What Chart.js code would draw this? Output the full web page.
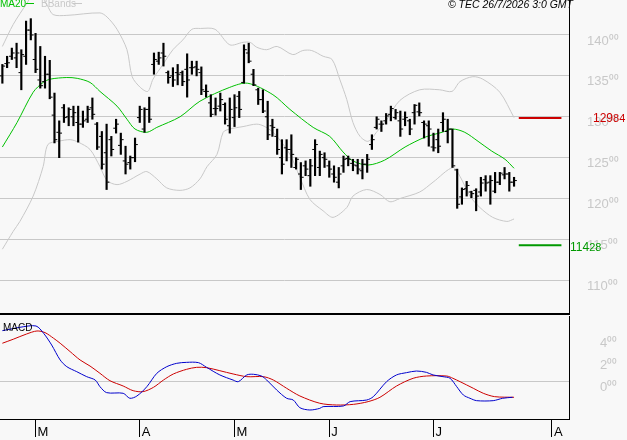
<!DOCTYPE html>
<html>
<head>
<meta charset="utf-8">
<script src="https://cdn.jsdelivr.net/npm/chart.js@4.4.1/dist/chart.umd.min.js"></script>
<style>
  html, body { margin: 0; padding: 0; background: #f8f8f8; }
  #wrap { position: relative; width: 627px; height: 440px; overflow: hidden; font-family: 'Liberation Sans', Arial, sans-serif; }
  #main { position: absolute; left: 0; top: 0; }
  #macd { position: absolute; left: 0; top: 316px; }
  .lbl { position: absolute; white-space: nowrap; line-height: 1; }
  .dash { position: absolute; height: 0; border-top: 1.5px solid; }
</style>
</head>
<body>
<div id="wrap">
  <canvas id="main" width="627" height="316"></canvas>
  <canvas id="macd" width="627" height="124"></canvas>

  <div class="lbl" style="left:0;top:-1px;font-size:10px;color:#00c000">MA20</div>
  <div class="dash" style="left:26px;top:3px;width:8px;border-color:#00c000"></div>
  <div class="lbl" style="left:41px;top:-1px;font-size:10px;color:#c8c8c8">BBands</div>
  <div class="dash" style="left:73px;top:3px;width:9px;border-color:#c8c8c8"></div>
  <div class="lbl" style="right:54px;top:-1px;font-size:10.5px;font-style:italic;color:#000">&copy; TEC 26/7/2026 3:0 GMT</div>

  <div class="lbl" style="left:593px;top:112px;font-size:12px;color:#cc0000">129<span style="font-size:11px">84</span></div>
  <div class="lbl" style="left:570px;top:241px;font-size:12px;color:#009900">114<span style="font-size:11px">28</span></div>

  <div class="lbl" style="left:3px;top:323px;font-size:10px;color:#000">MACD</div>
</div>
<script>
// daily bars, index 0 = first session shown
const opens = [135.0,136.5,137.4,137.2,135.4,137.4,140.6,137.0,134.5,134.3,
  135.2,130.2,128.1,131.1,130.0,130.0,129.3,129.1,129.7,131.1,
  129.1,127.6,125.6,127.2,128.6,126.5,124.6,124.4,125.0,129.9,
  128.5,130.9,136.4,136.8,137.8,135.4,135.0,135.4,135.4,135.8,
  136.0,136.1,135.4,133.1,131.7,131.0,131.3,131.5,128.9,129.9,
  132.5,134.2,137.8,135.2,133.3,132.1,130.0,128.9,127.6,125.0,
  126.2,126.0,123.8,123.0,124.0,122.8,126.0,123.8,125.0,124.0,
  123.0,122.0,124.0,124.9,124.3,124.0,123.4,124.2,126.6,128.7,
  129.1,129.5,130.3,129.9,129.5,129.7,129.5,130.5,130.6,129.3,
  128.9,126.3,127.2,129.3,128.2,128.5,123.5,120.2,121.2,120.8,
  121.0,120.8,122.3,122.0,120.9,122.0,122.9,123.0,122.0];
const highs = [136.4,137.4,138.4,139.0,138.2,141.7,142.0,140.2,138.6,137.4,
  136.9,132.9,129.5,131.5,131.1,131.3,131.3,130.7,131.3,132.3,
  129.3,128.2,129.1,127.6,129.7,128.0,126.4,125.2,127.4,131.3,
  131.1,132.4,137.8,137.9,139.0,135.6,136.0,136.4,135.6,137.7,
  136.8,136.8,136.1,133.9,132.7,132.3,132.9,131.7,132.3,132.7,
  133.1,138.8,139.0,135.8,133.5,133.3,131.9,129.7,128.5,127.2,
  127.2,127.8,125.0,124.4,124.6,124.8,127.2,125.8,125.6,124.6,
  124.0,123.8,125.2,125.2,124.8,124.8,124.8,125.4,127.8,130.0,
  129.5,130.4,131.3,130.9,130.7,130.6,129.7,131.5,131.7,129.5,
  129.5,128.0,128.5,130.5,129.7,128.5,123.6,121.3,122.1,120.9,
  121.2,122.6,122.8,122.8,123.2,123.2,123.8,123.2,122.6];
const lows = [134.1,136.0,137.0,136.0,133.3,136.4,139.4,135.4,133.5,133.5,
  132.2,126.8,125.0,129.3,128.9,128.9,126.9,128.7,129.3,129.7,
  126.0,123.6,121.1,125.2,128.0,125.4,123.0,123.6,124.5,129.3,
  128.1,129.3,135.2,136.4,136.2,134.1,133.7,133.9,133.8,132.4,
  135.2,135.0,132.7,132.4,130.0,130.2,130.7,129.1,128.0,128.8,
  129.9,134.1,136.6,133.8,131.5,130.5,127.2,127.6,125.4,123.0,
  124.6,123.8,123.6,121.1,122.8,121.5,122.8,122.8,123.8,122.6,
  122.0,121.3,123.2,124.0,123.4,123.0,122.4,123.2,126.0,128.5,
  128.2,129.1,129.5,129.7,127.6,128.9,127.8,129.1,130.1,127.4,
  126.4,125.8,125.6,128.2,126.8,123.8,118.8,119.3,120.3,120.1,
  118.5,120.3,120.9,119.3,120.7,121.7,122.4,120.9,121.5];
const closes = [136.2,136.6,137.8,137.8,137.6,140.6,140.0,135.8,133.8,135.2,
  132.4,127.2,128.0,129.9,130.9,130.5,129.1,129.5,130.9,130.3,
  126.3,124.2,122.0,126.0,129.1,127.2,124.2,125.0,126.6,130.9,
  130.9,129.7,137.0,137.2,137.4,134.8,134.5,135.2,134.3,134.5,
  136.0,135.8,133.3,133.1,130.3,131.0,132.1,129.7,130.9,131.1,
  130.9,138.2,136.8,133.9,132.1,130.7,127.8,128.7,126.0,124.2,
  126.0,125.4,124.8,122.6,123.6,124.0,126.6,125.4,124.8,123.6,
  122.6,123.0,124.8,124.8,124.1,123.6,124.2,124.8,127.2,129.7,
  129.1,130.1,131.0,130.5,128.5,129.9,128.5,131.4,130.5,129.1,
  128.5,126.2,126.4,129.7,128.5,124.0,119.3,121.1,121.6,120.6,
  120.3,121.9,121.9,122.2,122.0,123.1,123.0,122.0,122.2];

// indicator lines: [bar index, value]
const ma20 = [[0,126.3],[3.1,129.3],[6.5,133.0],[8.6,134.2],[10.1,134.6],[13.6,134.8],[15.8,134.7],
  [18.5,134.2],[20.6,133.1],[24.2,131.3],[26.3,129.7],[28.0,128.5],[30.5,128.1],[32.6,128.7],
  [37.5,130.0],[41.7,131.9],[48.0,133.6],[51.8,134.1],[57.1,132.7],[60.7,130.9],[65.6,128.7],
  [69.1,127.6],[71.9,125.7],[74.0,124.6],[77.2,124.1],[80.7,124.7],[85.0,126.3],[89.2,127.5],
  [92.8,128.1],[95.1,128.5],[97.6,128.1],[100.4,127.0],[103.3,125.8],[106.1,124.8],[108,123.7]];
const bandUpper = [[0,138.6],[2.3,141.3],[5.2,143.9],[7.2,145.5],[9.4,143.7],[10.7,142.5],[13.6,142.4],
  [20.6,142.7],[22.1,142.2],[24.2,140.7],[26.3,138.2],[27.4,134.9],[29.1,133.6],[30.7,133.1],
  [31.8,134.6],[33.9,136.4],[36.0,138.2],[38.1,139.4],[40.0,140.7],[41.8,140.8],[44.9,140.7],
  [48.0,138.8],[50.8,139.1],[52.3,139.1],[53.7,138.5],[55.8,138.2],[58.0,138.6],[61.3,137.6],
  [63.4,138.1],[65.3,138.1],[67.7,137.4],[69.6,137.0],[71.2,134.6],[72.7,132.1],[74.0,129.3],
  [75.5,127.6],[77.2,127.0],[79.1,128.2],[81.2,129.7],[83.9,132.0],[88.1,133.3],[92.3,133.3],
  [94.9,133.1],[96.6,134.3],[99.3,134.9],[101.4,134.6],[105.0,133.0],[108,129.9]];
const bandLower = [[0,113.8],[2.3,116.0],[3.7,117.2],[6.5,120.3],[8.6,123.9],[9.6,126.6],[11.8,127.0],
  [14.3,127.2],[16.0,126.9],[18.5,126.0],[20.6,123.9],[22.1,122.2],[24.2,121.7],[26.3,122.1],
  [29.1,123.0],[30.5,123.3],[32.6,122.4],[34.7,121.3],[37.5,121.0],[39.6,121.3],[41.7,122.4],
  [43.2,123.9],[45.3,125.4],[46.6,128.1],[48.0,128.5],[50.8,128.8],[53.7,129.1],[55.4,128.8],
  [57.5,127.9],[60.7,125.4],[62.8,122.6],[64.9,119.9],[67.7,118.5],[69.8,117.7],[72.7,118.9],
  [74.0,120.3],[76.9,121.1],[79.7,120.5],[81.8,119.6],[83.9,120.0],[88.1,120.8],[90.9,122.0],
  [95.1,123.8],[96.6,122.7],[98.7,120.3],[100.8,118.9],[103.5,117.7],[106.5,117.2],[108,117.5]];
const macdLine = [[0,4.73],[1.6,4.86],[3.7,5.04],[7.1,5.16],[8.7,4.49],[10.4,3.41],[12.2,2.03],
  [13.6,1.41],[15.7,0.95],[17.8,0.49],[19.6,0.18],[20.6,-0.43],[22.0,-0.98],[25.5,-1.04],
  [26.9,-1.5],[28.4,-1.29],[30.5,-0.43],[32.6,0.8],[34.7,1.41],[36.8,1.72],[38.9,1.81],
  [41.4,1.78],[43.1,1.35],[45.9,0.65],[48.7,0.18],[49.8,0.03],[51.6,0.65],[53.0,0.71],
  [54.7,0.55],[55.8,0.18],[57.9,-0.74],[60.0,-1.5],[61.4,-1.66],[62.8,-2.37],[64.9,-2.58],
  [67.0,-2.43],[67.7,-2.27],[72.0,-2.21],[73.4,-1.81],[76.9,-1.66],[78.3,-1.35],[81.1,0.03],
  [83.2,0.65],[85.3,0.86],[87.4,1.01],[89.5,0.89],[90.9,0.65],[93.0,0.49],[94.5,0.34],
  [95.9,-0.43],[97.3,-1.2],[98.7,-1.5],[100.1,-1.72],[103.6,-1.72],[105.6,-1.5],[107.7,-1.41]];
const signalLine = [[0,3.57],[2.3,3.94],[5.1,4.42],[7.3,4.7],[9.0,4.55],[10.8,4.03],[12.2,3.57],
  [14.3,2.8],[16.4,2.03],[18.5,1.47],[20.6,0.8],[22.7,0.12],[25.5,-0.37],[27.6,-0.8],
  [29.7,-0.89],[31.9,-0.49],[34.0,0.18],[36.1,0.74],[38.9,1.17],[41.0,1.35],[43.1,1.32],
  [45.9,1.04],[48.7,0.74],[51.6,0.49],[55.1,0.49],[57.2,0.18],[60.0,-0.58],[62.8,-1.29],
  [67.0,-1.96],[70.5,-2.12],[74.1,-2.06],[77.2,-1.81],[79.7,-1.41],[83.2,-0.37],[86.7,0.34],
  [89.5,0.55],[93.8,0.55],[95.1,0.34],[96.6,0.03],[99.4,-0.58],[101.5,-1.04],[103.9,-1.35],[108,-1.41]];

const resistance = 129.84;
const support = 114.28;
const priceTicks = [110, 115, 120, 125, 130, 135, 140];
const macdTicks = [0, 2, 4];
const months = ['M', 'A', 'M', 'J', 'J', 'A'];
const monthStarts = [7, 29, 49, 69, 91, 116];

const X_MIN = -0.5, X_MAX = 119.6;
const FONT = 'Liberation Sans';
const toXY = arr => arr.map(p => ({ x: p[0], y: p[1] }));
const levelFrom = opens.length, levelTo = opens.length + 9;

function lineSet(arr, color) {
    return { type: 'line', data: toXY(arr), borderColor: color, borderWidth: 1,
             pointRadius: 0, tension: 0.3, fill: false };
}
function tickSet(values, shift) {
    return { type: 'line', showLine: false, data: values.map((v, i) => ({ x: i + shift, y: v })),
             pointStyle: 'line', pointRadius: 1.1, borderColor: '#000',
             pointBorderColor: '#000', pointBorderWidth: 1 };
}
function levelSet(value, color) {
    return { type: 'line', data: [{ x: levelFrom, y: value }, { x: levelTo, y: value }],
             borderColor: color, borderWidth: 2, pointRadius: 0 };
}
function yFit(s) { s.width = 58; s.paddingTop = 0; s.paddingBottom = 0; }

const common = {
    responsive: false,
    animation: false,
    devicePixelRatio: 1,
    events: [],
    layout: { padding: 0, autoPadding: false },
    plugins: { legend: { display: false }, tooltip: { enabled: false } }
};

new Chart(document.getElementById('main'), {
    type: 'line',
    data: {
        datasets: [
            { type: 'bar', data: highs.map((h, i) => ({ x: i, y: [lows[i], h] })),
              backgroundColor: '#000', barThickness: 1.5, grouped: false },
            tickSet(opens, -0.36),
            tickSet(closes, 0.36),
            lineSet(ma20, '#00c000'),
            lineSet(bandUpper, '#c8c8c8'),
            lineSet(bandLower, '#c8c8c8'),
            levelSet(resistance, '#cc0000'),
            levelSet(support, '#009900')
        ]
    },
    options: {
        ...common,
        scales: {
            x: {
                type: 'linear', min: X_MIN, max: X_MAX, offset: false,
                ticks: { display: false },
                grid: { display: false, drawTicks: false },
                border: { color: '#000', width: 2 },
                afterFit: s => { s.height = 2; s.paddingLeft = 0; s.paddingRight = 0; }
            },
            y: {
                position: 'right', min: 105.88, max: 144.28,
                afterBuildTicks: s => { s.ticks = priceTicks.map(v => ({ value: v })); },
                ticks: { callback: v => v + '\u2070\u2070', color: '#c8c8c8',
                         font: { family: FONT, size: 13 }, padding: 18, labelOffset: 6 },
                grid: { color: '#c8c8c8', drawTicks: false },
                border: { color: '#000', width: 1 },
                afterFit: yFit
            }
        }
    }
});

new Chart(document.getElementById('macd'), {
    type: 'line',
    data: {
        datasets: [
            lineSet(macdLine, '#0000cc'),
            lineSet(signalLine, '#cc0000')
        ]
    },
    options: {
        ...common,
        scales: {
            x: {
                type: 'linear', min: X_MIN, max: X_MAX, offset: false,
                afterBuildTicks: s => { s.ticks = monthStarts.map(v => ({ value: v })); },
                ticks: { callback: (v, i) => months[i], color: '#000', align: 'start',
                         labelOffset: 2, padding: -12, autoSkip: false, maxRotation: 0,
                         font: { family: FONT, size: 13 } },
                grid: { drawOnChartArea: false, drawTicks: true, tickLength: 18, color: '#000' },
                border: { color: '#000', width: 1 },
                afterFit: s => { s.height = 21; s.paddingLeft = 0; s.paddingRight = 0; }
            },
            y: {
                position: 'right', min: -3.41, max: 6.08,
                afterBuildTicks: s => { s.ticks = macdTicks.map(v => ({ value: v })); },
                ticks: { callback: v => v + '\u2070\u2070', color: '#c8c8c8',
                         font: { family: FONT, size: 13 }, padding: 31, labelOffset: 5 },
                grid: { color: c => (c.tick && c.tick.value === 0 ? '#c8c8c8' : 'rgba(0,0,0,0)'),
                        drawTicks: false },
                border: { color: '#000', width: 1 },
                afterFit: yFit
            }
        }
    }
});
</script>
</body>
</html>
